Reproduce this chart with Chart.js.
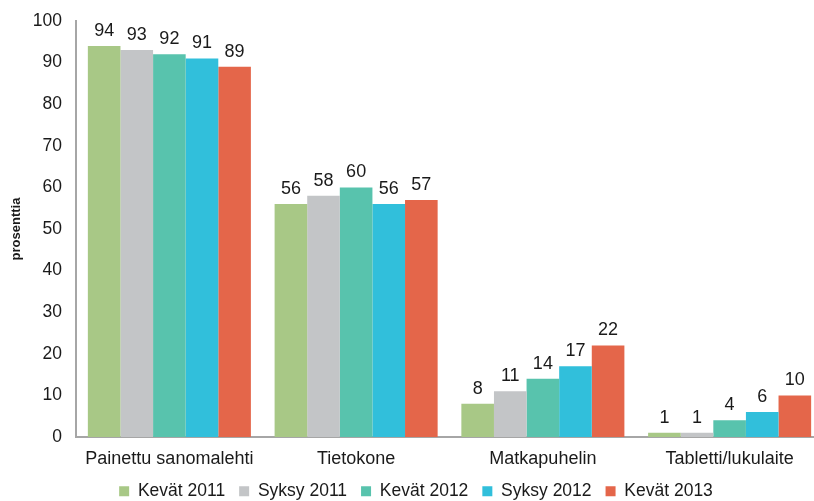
<!DOCTYPE html>
<html>
<head>
<meta charset="utf-8">
<script src="https://cdn.jsdelivr.net/npm/chart.js@4/dist/chart.umd.min.js"></script>
<style>
  html, body { margin: 0; padding: 0; background: #fff; overflow: hidden; }
  #wrap { width: 826px; height: 510px; position: relative; }
</style>
</head>
<body>
<div id="wrap"><canvas id="chart"></canvas></div>
<script>
// Categories and survey rounds
const categories = ['Painettu sanomalehti', 'Tietokone', 'Matkapuhelin', 'Tabletti/lukulaite'];
const seriesNames = ['Kevät 2011', 'Syksy 2011', 'Kevät 2012', 'Syksy 2012', 'Kevät 2013'];

// Values per round, one entry per category (percent)
const kevat2011 = [94, 56, 8, 1];
const syksy2011 = [93, 58, 11, 1];
const kevat2012 = [92, 60, 14, 4];
const syksy2012 = [91, 56, 17, 6];
const kevat2013 = [89, 57, 22, 10];

const yTicks = [0, 10, 20, 30, 40, 50, 60, 70, 80, 90, 100];

const SERIES_COLORS = ['#a8c886', '#c3c5c7', '#58c3ad', '#31bfdb', '#e4664a'];

const FONT = 'Liberation Sans, Arial, sans-serif';

// Draws the value above each bar
const valueLabels = {
    id: 'valueLabels',
    afterDatasetsDraw(chart) {
        const ctx = chart.ctx;
        ctx.save();
        ctx.font = '18px ' + FONT;
        ctx.fillStyle = '#1a1a1a';
        ctx.textAlign = 'center';
        ctx.textBaseline = 'bottom';
        chart.data.datasets.forEach((ds, i) => {
            chart.getDatasetMeta(i).data.forEach((bar, j) => {
                ctx.fillText(String(ds.data[j]), bar.x, bar.y - 6);
            });
        });
        ctx.restore();
    }
};

const allSeries = [kevat2011, syksy2011, kevat2012, syksy2012, kevat2013];

new Chart(document.getElementById('chart'), {
    type: 'bar',
    data: {
        labels: categories,
        datasets: allSeries.map((values, i) => ({
            label: seriesNames[i],
            data: values,
            backgroundColor: SERIES_COLORS[i],
            borderWidth: 0,
            categoryPercentage: 0.873,
            barPercentage: 1
        }))
    },
    options: {
        responsive: true,
        maintainAspectRatio: false,
        animation: false,
        layout: { padding: { top: 21, left: 9, right: 3, bottom: 0 } },
        plugins: {
            legend: {
                position: 'bottom',
                labels: {
                    boxWidth: 10,
                    boxHeight: 10,
                    padding: 14,
                    color: '#1a1a1a',
                    font: { family: FONT, size: 17.5 }
                }
            },
            tooltip: { enabled: false }
        },
        scales: {
            y: {
                min: 0,
                max: 100,
                afterBuildTicks: axis => { axis.ticks = yTicks.map(v => ({ value: v })); },
                // keep the axis line close to the tick labels
                afterFit: scale => {
                    scale.width = 67;
                    scale.paddingTop = 0;
                },
                ticks: {
                    padding: 14,
                    color: '#1a1a1a',
                    font: { family: FONT, size: 17.5 }
                },
                grid: { display: false, drawTicks: false },
                border: { color: '#a6a6a6', width: 2 },
                title: {
                    display: true,
                    text: 'prosenttia',
                    color: '#1a1a1a',
                    font: { family: FONT, size: 13, weight: 'bold' },
                    padding: { top: 0, bottom: 4 }
                }
            },
            x: {
                afterFit: scale => { scale.height = 31.5; },
                ticks: {
                    padding: 11,
                    color: '#1a1a1a',
                    font: { family: FONT, size: 18 }
                },
                grid: { display: false, drawTicks: false },
                border: { color: '#a6a6a6', width: 2 }
            }
        }
    },
    plugins: [valueLabels]
});
</script>
</body>
</html>
